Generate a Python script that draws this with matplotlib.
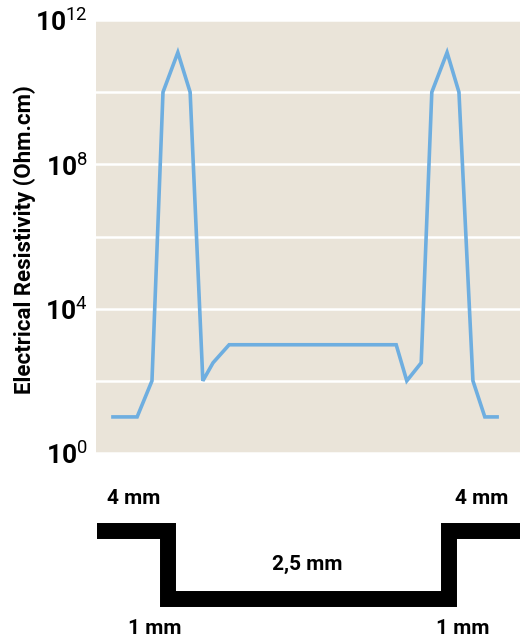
import numpy as np
import matplotlib
matplotlib.use("Agg")
import matplotlib.pyplot as plt
from matplotlib import font_manager

# position along the profile (% of width) and log10 of resistivity (Ohm.cm)
position = [4.0, 9.7, 13.2, 15.8, 19.3, 22.2, 25.2, 27.6, 31.4,
            70.8, 73.3, 76.7, 79.2, 82.8, 85.6, 88.9, 91.7, 94.6]
log_resistivity = [1, 1, 2, 10, 11.1, 10, 2, 2.5, 3,
                   3, 2, 2.5, 10, 11.1, 10, 2, 1, 1]
resistivity = 10.0 ** np.array(log_resistivity)

grid_decades = [0, 2, 4, 6, 8, 10, 12]
label_decades = [0, 4, 8, 12]

# cross-section sketch under the chart (pixel outline) and its thickness labels
profile_x = [97, 168, 168, 449, 449, 520]
profile_y = [531, 531, 599, 599, 531, 531]
thickness_labels = ["4 mm", "4 mm", "2,5 mm", "1 mm", "1 mm"]
label_xy = [(134, 498), (482, 498), (307, 564), (155, 628), (463, 628)]

narrow = "Liberation Sans Narrow"
have_narrow = any(f.name == narrow for f in font_manager.fontManager.ttflist)
family = [narrow, "DejaVu Sans"] if have_narrow else ["Roboto", "DejaVu Sans"]
plt.rcParams["font.family"] = family
plt.rcParams["mathtext.fontset"] = "custom"
plt.rcParams["mathtext.rm"] = family[0]
plt.rcParams["mathtext.bf"] = family[0] + ":bold"

W, H = 520, 638
fig = plt.figure(figsize=(W / 100, H / 100), dpi=100)

top, bottom, left = 20, 453, 96
ax = fig.add_axes([left / W, 1 - bottom / H, 1 - left / W, (bottom - top) / H])
ax.set_facecolor("#EAE4D9")
ax.set_yscale("log")
ax.set_ylim(1, 1e12)
ax.set_xlim(0, 100)

ax.plot(position, resistivity, color="#6EAEE0", linewidth=2.6,
        solid_joinstyle="miter", zorder=3)

ax.set_yticks([10.0 ** d for d in grid_decades])
ax.set_yticklabels([r"$\mathbf{10}^{%d}$" % d if d in label_decades else ""
                    for d in grid_decades], fontsize=19)
ax.yaxis.set_minor_locator(matplotlib.ticker.NullLocator())
ax.set_xticks([])
ax.tick_params(axis="y", length=0, pad=6)
ax.grid(axis="y", color="white", linewidth=1.8)
ax.set_axisbelow(True)
for s in ax.spines.values():
    s.set_visible(False)

fig.text(25 / W, 1 - 240 / H, "Electrical Resistivity (Ohm.cm)", rotation=90,
         ha="center", va="center", fontsize=16, fontweight="bold")

# sketch of the part below the chart
sk = fig.add_axes([0, 0, 1, 1], zorder=-1)
sk.set_xlim(0, W)
sk.set_ylim(H, 0)
sk.axis("off")
sk.plot(profile_x, profile_y, color="black", linewidth=11.5,
        solid_joinstyle="miter", solid_capstyle="butt")
for txt, (x, y) in zip(thickness_labels, label_xy):
    sk.text(x, y, txt, ha="center", va="center", fontsize=15, fontweight="bold")

fig.savefig("out.png", dpi=100)
